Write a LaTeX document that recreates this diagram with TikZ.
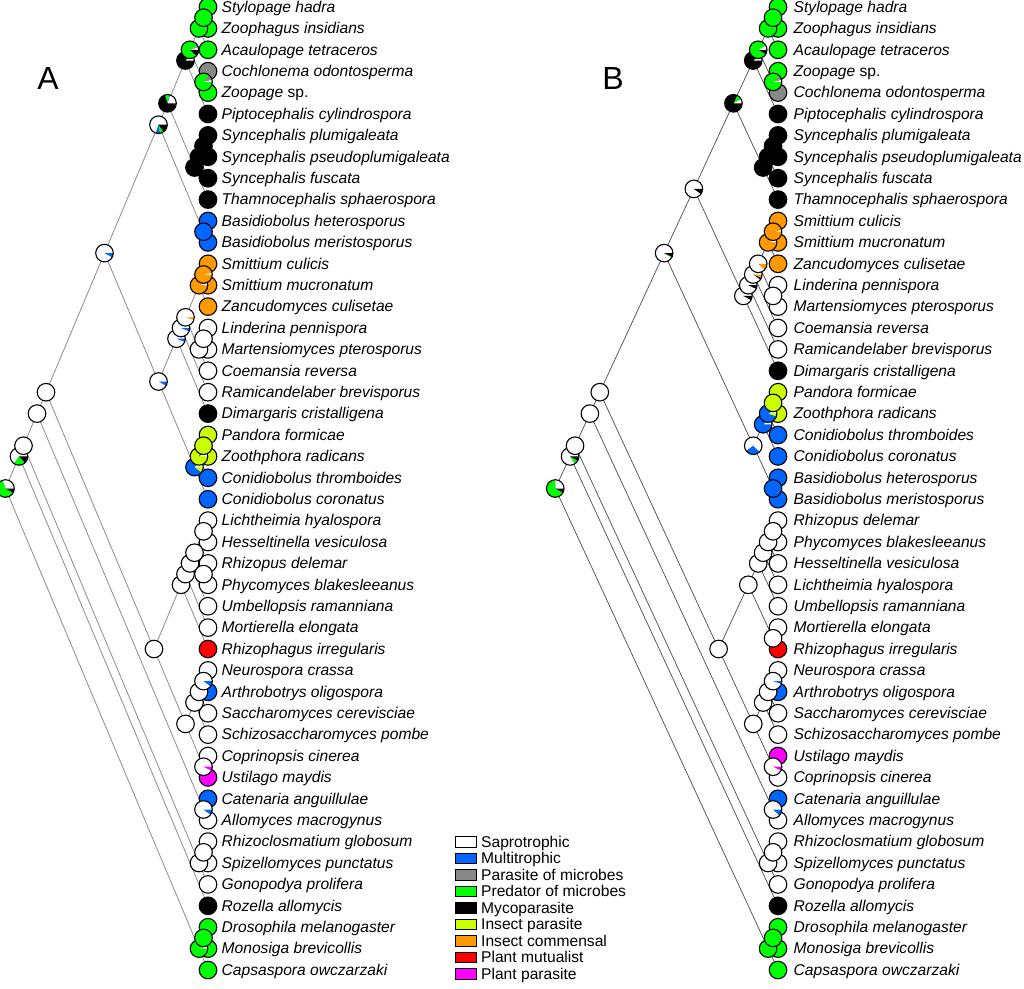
\documentclass[tikz,border=0pt]{standalone}
\usepackage{fontspec}
\setmainfont{Liberation Sans}
\pgfdeclarelayer{background}
\pgfsetlayers{background,main}
\definecolor{cblue}{RGB}{0,102,255}
\definecolor{cgrey}{RGB}{136,136,136}
\definecolor{cgreen}{RGB}{0,255,0}
\definecolor{cyel}{RGB}{204,255,0}
\definecolor{corange}{RGB}{255,153,0}
\definecolor{cred}{RGB}{255,0,0}
\definecolor{cmag}{RGB}{255,0,255}
\newcommand\pieR{8.8pt}
\newcommand\drawpie[2]{%
  \gdef\pieang{0}%
  \foreach \pp/\pc in {#2}{%
    \pgfmathsetmacro\pieend{\pieang+3.6*\pp}%
    \fill[\pc] (#1) -- ++(\pieang:\pieR) arc[start angle=\pieang, end angle=\pieend, radius=\pieR] -- cycle;%
    \xdef\pieang{\pieend}%
  }%
  \draw[pieline] (#1) circle[radius=\pieR];%
}
\newcommand\inode[3]{%
  \pgfmathsetmacro\nx{\xl-\cc*(#3-#2)}%
  \pgfmathsetmacro\ny{7+21.4*((#2+#3)/2-1)}%
  \coordinate (\tp#1) at (\nx,\ny);%
}
\begin{document}
\begin{tikzpicture}[x=1pt,y=-1pt,
  leaf/.style={circle,draw=black,line width=1.1pt,minimum size=17.6pt,inner sep=0pt},
  pieline/.style={draw=black,line width=1.1pt},
  lab/.style={anchor=base west,inner sep=0pt,font=\fontsize{15.6}{18}\selectfont\itshape},
  edgeA/.style={draw=black!45,line width=0.8pt},
  edgeB/.style={draw=black!70,line width=0.7pt},
  legbox/.style={rectangle,draw=black,line width=1.2pt,minimum width=21pt,minimum height=10.5pt,inner sep=0pt},
  legtext/.style={anchor=base west,inner sep=0pt,font=\fontsize{15.6}{18}\selectfont},
  panel/.style={inner sep=0pt,font=\fontsize{32}{36}\selectfont}]
\useasboundingbox (0,0) rectangle (1024,988);
\begin{pgfonlayer}{background}
\fill[white] (0,0) rectangle (1024,988);
\end{pgfonlayer}

\node[panel] (labA) at (48,78) {A};
\node[panel] (labB) at (613,78) {B};

% ================= Tree A =================
\def\tp{A}\def\xl{208}\def\cc{4.5}
\foreach \ni/\nf/\nl in {0/1/46,1/1/43,2/1/42,3/1/39,4/1/37,5/1/24,6/1/12,7/1/10,8/1/6,9/1/5,10/1/3,11/1/2,12/4/5,13/7/10,14/7/9,15/7/8,16/11/12,17/13/24,18/13/20,19/13/19,20/13/18,21/13/15,22/13/14,23/16/18,24/16/17,25/21/24,26/21/23,27/21/22,28/25/37,29/25/31,30/25/30,31/25/29,32/25/28,33/25/26,34/27/28,35/32/37,36/32/35,37/32/34,38/32/33,39/36/37,40/38/39,41/40/42,42/40/41,43/44/46,44/44/45}{\inode{\ni}{\nf}{\nl}}
\foreach \li/\lc/\lt in {1/cgreen/Stylopage hadra,2/cgreen/Zoophagus insidians,3/cgreen/Acaulopage tetraceros,4/cgrey/Cochlonema odontosperma,5/cgreen/{Zoopage \textup{sp.}},6/black/Piptocephalis cylindrospora,7/black/Syncephalis plumigaleata,8/black/Syncephalis pseudoplumigaleata,9/black/Syncephalis fuscata,10/black/Thamnocephalis sphaerospora,11/cblue/Basidiobolus heterosporus,12/cblue/Basidiobolus meristosporus,13/corange/Smittium culicis,14/corange/Smittium mucronatum,15/corange/Zancudomyces culisetae,16/white/Linderina pennispora,17/white/Martensiomyces pterosporus,18/white/Coemansia reversa,19/white/Ramicandelaber brevisporus,20/black/Dimargaris cristalligena,21/cyel/Pandora formicae,22/cyel/Zoothphora radicans,23/cblue/Conidiobolus thromboides,24/cblue/Conidiobolus coronatus,25/white/Lichtheimia hyalospora,26/white/Hesseltinella vesiculosa,27/white/Rhizopus delemar,28/white/Phycomyces blakesleeanus,29/white/Umbellopsis ramanniana,30/white/Mortierella elongata,31/cred/Rhizophagus irregularis,32/white/Neurospora crassa,33/cblue/Arthrobotrys oligospora,34/white/Saccharomyces cerevisciae,35/white/Schizosaccharomyces pombe,36/white/Coprinopsis cinerea,37/cmag/Ustilago maydis,38/cblue/Catenaria anguillulae,39/white/Allomyces macrogynus,40/white/Rhizoclosmatium globosum,41/white/Spizellomyces punctatus,42/white/Gonopodya prolifera,43/black/Rozella allomycis,44/cgreen/Drosophila melanogaster,45/cgreen/Monosiga brevicollis,46/cgreen/Capsaspora owczarzaki}{
  \pgfmathsetmacro\yy{7+21.4*(\li-1)}
  \node[leaf,fill=\lc] (\tp l\li) at (\xl,\yy) {};
  \node[lab] (\tp t\li) at (\xl+13.5,\yy+5.3) {\lt};
}
\begin{pgfonlayer}{background}
\foreach \ep/\ec in {0/1,0/43,1/2,1/l43,2/3,2/41,3/4,3/40,4/5,4/28,5/6,5/17,6/7,6/16,7/8,7/13,8/9,8/l6,9/10,9/12,10/11,10/l3,11/l1,11/l2,12/l4,12/l5,13/14,13/l10,14/15,14/l9,15/l7,15/l8,16/l11,16/l12,17/18,17/25,18/19,18/l20,19/20,19/l19,20/21,20/23,21/22,21/l15,22/l13,22/l14,23/24,23/l18,24/l16,24/l17,25/26,25/l24,26/27,26/l23,27/l21,27/l22,28/29,28/35,29/30,29/l31,30/31,30/l30,31/32,31/l29,32/33,32/34,33/l25,33/l26,34/l27,34/l28,35/36,35/39,36/37,36/l35,37/38,37/l34,38/l32,38/l33,39/l36,39/l37,40/l38,40/l39,41/42,41/l42,42/l40,42/l41,43/44,43/l46,44/l44,44/l45}{\draw[edgeA] (A\ep) -- (A\ec);}
\end{pgfonlayer}
\drawpie{A0}{30/white,62/cgreen,8/black}
\drawpie{A1}{65/white,22/cgreen,13/black}
\drawpie{A2}{100/white}
\drawpie{A3}{100/white}
\drawpie{A4}{100/white}
\drawpie{A5}{92/white,8/cblue}
\drawpie{A6}{70/white,8/cblue,7/cgreen,15/black}
\drawpie{A7}{20/white,2/cblue,8/cgreen,70/black}
\drawpie{A8}{10/white,8/cgreen,82/black}
\drawpie{A9}{5/white,3/cgrey,80/cgreen,12/black}
\drawpie{A10}{100/cgreen}
\drawpie{A11}{100/cgreen}
\drawpie{A12}{4/white,10/cgrey,86/cgreen}
\drawpie{A13}{100/black}
\drawpie{A14}{100/black}
\drawpie{A15}{100/black}
\drawpie{A16}{100/cblue}
\drawpie{A17}{92/white,8/cblue}
\drawpie{A18}{94/white,6/cblue}
\drawpie{A19}{94/white,6/cblue}
\drawpie{A20}{95/white,5/corange}
\drawpie{A21}{5/white,95/corange}
\drawpie{A22}{3/white,97/corange}
\drawpie{A23}{100/white}
\drawpie{A24}{100/white}
\drawpie{A25}{12/white,78/cblue,10/cyel}
\drawpie{A26}{10/white,10/cblue,80/cyel}
\drawpie{A27}{100/cyel}
\drawpie{A28}{100/white}
\drawpie{A29}{100/white}
\drawpie{A30}{100/white}
\drawpie{A31}{100/white}
\drawpie{A32}{100/white}
\drawpie{A33}{100/white}
\drawpie{A34}{100/white}
\drawpie{A35}{100/white}
\drawpie{A36}{100/white}
\drawpie{A37}{100/white}
\drawpie{A38}{90/white,10/cblue}
\drawpie{A39}{93/white,7/cmag}
\drawpie{A40}{90/white,10/cblue}
\drawpie{A41}{100/white}
\drawpie{A42}{100/white}
\drawpie{A43}{5/white,95/cgreen}
\drawpie{A44}{100/cgreen}

% ================= Tree B =================
\def\tp{B}\def\xl{778}\def\cc{4.95}
\foreach \ni/\nf/\nl in {0/1/46,1/1/43,2/1/42,3/1/39,4/1/37,5/1/24,6/1/18,7/1/10,8/1/6,9/1/5,10/1/3,11/1/2,12/4/5,13/7/10,14/7/9,15/7/8,16/11/18,17/11/17,18/11/16,19/11/15,20/11/13,21/11/12,22/14/15,23/19/24,24/19/22,25/19/21,26/19/20,27/23/24,28/25/37,29/25/31,30/25/29,31/25/28,32/25/27,33/25/26,34/30/31,35/32/37,36/32/35,37/32/34,38/32/33,39/36/37,40/38/39,41/40/42,42/40/41,43/44/46,44/44/45}{\inode{\ni}{\nf}{\nl}}
\foreach \li/\lc/\lt in {1/cgreen/Stylopage hadra,2/cgreen/Zoophagus insidians,3/cgreen/Acaulopage tetraceros,4/cgreen/{Zoopage \textup{sp.}},5/cgrey/Cochlonema odontosperma,6/black/Piptocephalis cylindrospora,7/black/Syncephalis plumigaleata,8/black/Syncephalis pseudoplumigaleata,9/black/Syncephalis fuscata,10/black/Thamnocephalis sphaerospora,11/corange/Smittium culicis,12/corange/Smittium mucronatum,13/corange/Zancudomyces culisetae,14/white/Linderina pennispora,15/white/Martensiomyces pterosporus,16/white/Coemansia reversa,17/white/Ramicandelaber brevisporus,18/black/Dimargaris cristalligena,19/cyel/Pandora formicae,20/cyel/Zoothphora radicans,21/cblue/Conidiobolus thromboides,22/cblue/Conidiobolus coronatus,23/cblue/Basidiobolus heterosporus,24/cblue/Basidiobolus meristosporus,25/white/Rhizopus delemar,26/white/Phycomyces blakesleeanus,27/white/Hesseltinella vesiculosa,28/white/Lichtheimia hyalospora,29/white/Umbellopsis ramanniana,30/white/Mortierella elongata,31/cred/Rhizophagus irregularis,32/white/Neurospora crassa,33/cblue/Arthrobotrys oligospora,34/white/Saccharomyces cerevisciae,35/white/Schizosaccharomyces pombe,36/cmag/Ustilago maydis,37/white/Coprinopsis cinerea,38/cblue/Catenaria anguillulae,39/white/Allomyces macrogynus,40/white/Rhizoclosmatium globosum,41/white/Spizellomyces punctatus,42/white/Gonopodya prolifera,43/black/Rozella allomycis,44/cgreen/Drosophila melanogaster,45/cgreen/Monosiga brevicollis,46/cgreen/Capsaspora owczarzaki}{
  \pgfmathsetmacro\yy{7+21.4*(\li-1)}
  \node[leaf,fill=\lc] (\tp l\li) at (\xl,\yy) {};
  \node[lab] (\tp t\li) at (\xl+15.5,\yy+5.3) {\lt};
}
\begin{pgfonlayer}{background}
\foreach \ep/\ec in {0/1,0/43,1/2,1/l43,2/3,2/41,3/4,3/40,4/5,4/28,5/6,5/23,6/7,6/16,7/8,7/13,8/9,8/l6,9/10,9/12,10/11,10/l3,11/l1,11/l2,12/l4,12/l5,13/14,13/l10,14/15,14/l9,15/l7,15/l8,16/17,16/l18,17/18,17/l17,18/19,18/l16,19/20,19/22,20/21,20/l13,21/l11,21/l12,22/l14,22/l15,23/24,23/27,24/25,24/l22,25/26,25/l21,26/l19,26/l20,27/l23,27/l24,28/29,28/35,29/30,29/34,30/31,30/l29,31/32,31/l28,32/33,32/l27,33/l25,33/l26,34/l30,34/l31,35/36,35/39,36/37,36/l35,37/38,37/l34,38/l32,38/l33,39/l36,39/l37,40/l38,40/l39,41/42,41/l42,42/l40,42/l41,43/44,43/l46,44/l44,44/l45}{\draw[edgeB] (B\ep) -- (B\ec);}
\end{pgfonlayer}
\drawpie{B0}{25/white,67/cgreen,8/black}
\drawpie{B1}{84/white,8/cgreen,8/black}
\drawpie{B2}{100/white}
\drawpie{B3}{100/white}
\drawpie{B4}{100/white}
\drawpie{B5}{91/white,2/cgreen,7/black}
\drawpie{B6}{90/white,10/black}
\drawpie{B7}{8/white,10/cgreen,82/black}
\drawpie{B8}{8/white,4/cgreen,88/black}
\drawpie{B9}{8/white,84/cgreen,8/black}
\drawpie{B10}{100/cgreen}
\drawpie{B11}{100/cgreen}
\drawpie{B12}{4/white,8/cgrey,88/cgreen}
\drawpie{B13}{100/black}
\drawpie{B14}{100/black}
\drawpie{B15}{100/black}
\drawpie{B16}{92/white,8/black}
\drawpie{B17}{93/white,7/black}
\drawpie{B18}{90/white,4/black,6/corange}
\drawpie{B19}{88/white,12/corange}
\drawpie{B20}{5/white,95/corange}
\drawpie{B21}{3/white,97/corange}
\drawpie{B22}{100/white}
\drawpie{B23}{60/white,28/cblue,12/white}
\drawpie{B24}{10/white,90/cblue}
\drawpie{B25}{8/white,87/cblue,5/cyel}
\drawpie{B26}{100/cyel}
\drawpie{B27}{100/cblue}
\drawpie{B28}{100/white}
\drawpie{B29}{100/white}
\drawpie{B30}{100/white}
\drawpie{B31}{100/white}
\drawpie{B32}{100/white}
\drawpie{B33}{100/white}
\drawpie{B34}{100/white}
\drawpie{B35}{100/white}
\drawpie{B36}{100/white}
\drawpie{B37}{100/white}
\drawpie{B38}{95/white,5/cblue}
\drawpie{B39}{93/white,7/cmag}
\drawpie{B40}{88/white,12/cblue}
\drawpie{B41}{100/white}
\drawpie{B42}{100/white}
\drawpie{B43}{100/cgreen}
\drawpie{B44}{100/cgreen}

% ================= Legend =================
\foreach \k/\lc/\lt in {0/white/Saprotrophic,1/cblue/Multitrophic,2/cgrey/Parasite of microbes,3/cgreen/Predator of microbes,4/black/Mycoparasite,5/cyel/Insect parasite,6/corange/Insect commensal,7/cred/Plant mutualist,8/cmag/Plant parasite}{
  \pgfmathsetmacro\yy{842+16.5*\k}
  \node[legbox,fill=\lc] (lg\k) at (466,\yy) {};
  \node[legtext] (lgt\k) at (481,\yy+5) {\lt};
}
\end{tikzpicture}
\end{document}
